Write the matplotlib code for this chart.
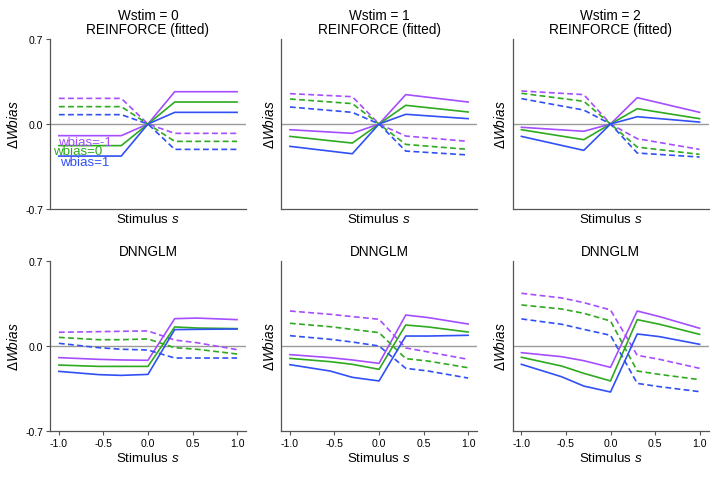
import numpy as np
import matplotlib
matplotlib.use("Agg")
from matplotlib import pyplot as plt

plt.rcParams['font.family'] = ['Liberation Sans', 'DejaVu Sans']
plt.rcParams['mathtext.fontset'] = 'custom'
plt.rcParams['mathtext.rm'] = 'Liberation Sans'
plt.rcParams['mathtext.it'] = 'Liberation Sans:italic'

# stimulus grids (REINFORCE rows only kink at +-0.3)
x_top = [-1.0, -0.3, 0.0, 0.3, 1.0]
x_bot = [-1.0, -0.55, -0.3, 0.0, 0.3, 0.55, 1.0]

wstim_levels = [0, 1, 2]
wbias_labels = ['wbias=-1', 'wbias=0', 'wbias=1']
colors = ['#a64dff', '#2eaa1e', '#3050f5']

# REINFORCE (fitted): solid / dashed for wbias = -1, 0, 1
rf_solid = [
    [[-0.096, -0.096, 0.0, 0.266, 0.266],
     [-0.178, -0.178, 0.0, 0.181, 0.181],
     [-0.264, -0.264, 0.0, 0.096, 0.096]],
    [[-0.047, -0.077, 0.0, 0.242, 0.181],
     [-0.102, -0.157, 0.0, 0.154, 0.099],
     [-0.184, -0.245, 0.0, 0.080, 0.044]],
    [[-0.027, -0.060, 0.0, 0.217, 0.096],
     [-0.047, -0.129, 0.0, 0.126, 0.044],
     [-0.102, -0.217, 0.0, 0.060, 0.016]],
]
rf_dashed = [
    [[0.211, 0.211, 0.0, -0.077, -0.077],
     [0.143, 0.143, 0.0, -0.143, -0.143],
     [0.077, 0.077, 0.0, -0.209, -0.209]],
    [[0.250, 0.225, 0.0, -0.099, -0.143],
     [0.206, 0.168, 0.0, -0.168, -0.209],
     [0.140, 0.096, 0.0, -0.223, -0.255]],
    [[0.272, 0.242, 0.0, -0.121, -0.209],
     [0.253, 0.187, 0.0, -0.190, -0.250],
     [0.209, 0.115, 0.0, -0.239, -0.272]],
]

# DNNGLM
dnn_solid = [
    [[-0.096, -0.110, -0.115, -0.118, 0.225, 0.230, 0.217],
     [-0.157, -0.168, -0.168, -0.168, 0.157, 0.148, 0.143],
     [-0.209, -0.236, -0.242, -0.234, 0.135, 0.137, 0.140]],
    [[-0.071, -0.096, -0.115, -0.143, 0.255, 0.234, 0.181],
     [-0.102, -0.129, -0.151, -0.192, 0.173, 0.157, 0.115],
     [-0.154, -0.206, -0.258, -0.288, 0.082, 0.082, 0.088]],
    [[-0.055, -0.088, -0.121, -0.176, 0.288, 0.242, 0.146],
     [-0.093, -0.165, -0.225, -0.288, 0.217, 0.179, 0.096],
     [-0.151, -0.253, -0.330, -0.379, 0.099, 0.077, 0.014]],
]
dnn_dashed = [
    [[0.113, 0.118, 0.121, 0.124, 0.049, 0.027, -0.030],
     [0.071, 0.052, 0.052, 0.058, -0.014, -0.027, -0.066],
     [0.022, -0.014, -0.027, -0.033, -0.099, -0.099, -0.099]],
    [[0.288, 0.261, 0.242, 0.220, -0.016, -0.049, -0.110],
     [0.187, 0.159, 0.137, 0.110, -0.104, -0.124, -0.179],
     [0.085, 0.055, 0.033, 0.000, -0.184, -0.206, -0.264]],
    [[0.434, 0.396, 0.357, 0.297, -0.077, -0.110, -0.184],
     [0.338, 0.305, 0.269, 0.206, -0.206, -0.234, -0.277],
     [0.223, 0.179, 0.137, 0.088, -0.308, -0.335, -0.376]],
]

fig = plt.figure(figsize=(7.14, 4.85), dpi=100)
lefts = [0.070, 0.3936, 0.7178]
bottoms = [0.567, 0.1093]
w, h = 0.2745, 0.3505

for row in range(2):
    for col in range(3):
        ax = fig.add_axes([lefts[col], bottoms[row], w, h])
        if row == 0:
            xs, solid, dashed = x_top, rf_solid[col], rf_dashed[col]
            ax.set_title('Wstim = %d\nREINFORCE (fitted)' % wstim_levels[col],
                         fontsize=9.8, linespacing=1.0, pad=4)
        else:
            xs, solid, dashed = x_bot, dnn_solid[col], dnn_dashed[col]
            ax.set_title('DNNGLM', fontsize=9.8, pad=4)

        ax.axhline(0, color='#9a9a9a', lw=1.0, zorder=1)
        for k in range(3):
            ax.plot(xs, solid[k], color=colors[k], lw=1.2, zorder=3)
            ax.plot(xs, dashed[k], color=colors[k], lw=1.2, ls='--',
                    dashes=(3.5, 2), zorder=3)

        ax.set_xlim(-1.1, 1.1)
        ax.set_ylim(-0.7, 0.7)
        for side in ['top', 'right']:
            ax.spines[side].set_visible(False)
        for side in ['left', 'bottom']:
            ax.spines[side].set_color('#555555')
            ax.spines[side].set_linewidth(0.9)

        if col == 0:
            ax.set_yticks([-0.7, 0.0, 0.7])
            ax.set_yticklabels(['-0.7', '0.0', '0.7'])
        else:
            ax.set_yticks([])
        if row == 1:
            ax.set_xticks([-1.0, -0.5, 0.0, 0.5, 1.0])
            ax.set_xticklabels(['-1.0', '-0.5', '0.0', '0.5', '1.0'])
        else:
            ax.set_xticks([])
        ax.tick_params(labelsize=7.6, length=3, width=0.8, color='#555555', pad=2)

        ax.set_xlabel('Stimulus $s$', fontsize=9.6, labelpad=2)
        ax.set_ylabel(r'$\Delta Wbias$', fontsize=9.8, labelpad=3 if col == 0 else 3)

        if row == 0 and col == 0:
            ax.text(-1.01, -0.148, wbias_labels[0], color=colors[0], fontsize=9.6,
                    ha='left', va='center', zorder=4)
            ax.text(-1.07, -0.222, wbias_labels[1], color=colors[1], fontsize=9.6,
                    ha='left', va='center', zorder=4)
            ax.text(-0.99, -0.310, wbias_labels[2], color=colors[2], fontsize=9.6,
                    ha='left', va='center', zorder=4)

plt.savefig('out.png', dpi=100)
